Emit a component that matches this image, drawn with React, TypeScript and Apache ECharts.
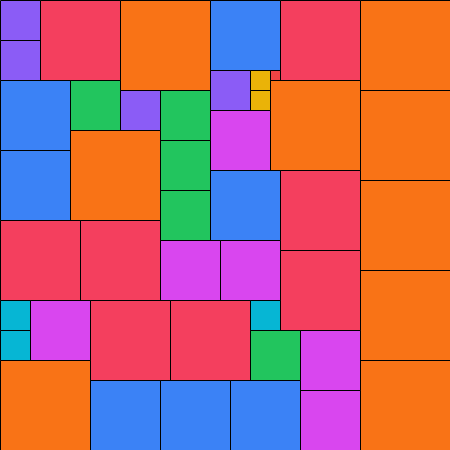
import React, { useEffect, useRef } from "react";
import * as echarts from "echarts";

// Square packing: top-left corner (x, y) and side length of each square
const xs = [0, 0, 40, 120, 210, 280, 360, 360, 360, 360, 360, 0, 70, 120, 160, 210, 250, 250, 270, 270, 210, 0, 70, 160, 160, 210, 280, 0, 80, 160, 220, 280, 0, 0, 30, 90, 170, 250, 250, 300, 300, 0, 90, 160, 230];
const ys = [0, 40, 0, 0, 0, 0, 0, 90, 180, 270, 360, 80, 80, 90, 90, 70, 70, 90, 70, 80, 110, 150, 130, 140, 190, 170, 170, 220, 220, 240, 240, 250, 300, 330, 300, 300, 300, 300, 330, 330, 390, 360, 380, 380, 380];
const sizes = [40, 40, 80, 90, 70, 80, 90, 90, 90, 90, 90, 70, 50, 40, 50, 40, 20, 20, 10, 90, 60, 70, 90, 50, 50, 70, 80, 80, 80, 60, 60, 80, 30, 30, 60, 80, 80, 30, 50, 60, 60, 90, 70, 70, 70];

const sizeColors: Record<number, string> = {
  10: "#ef4444",
  20: "#eab308",
  30: "#06b6d4",
  40: "#8b5cf6",
  50: "#22c55e",
  60: "#d946ef",
  70: "#3b82f6",
  80: "#f43f5e",
  90: "#f97316",
};

export default function App() {
  const ref = useRef<HTMLDivElement>(null);
  useEffect(() => {
    if (!ref.current) return;
    const chart = echarts.init(ref.current, undefined, { renderer: "svg" });
    const data = xs.map((x, i) => [x, ys[i], sizes[i]]);
    chart.setOption({
      animation: false,
      grid: { left: 0, right: 0, top: 0, bottom: 0 },
      xAxis: { type: "value", min: 0, max: 450, show: false },
      yAxis: { type: "value", min: 0, max: 450, inverse: true, show: false },
      series: [
        {
          type: "custom",
          data,
          renderItem: (params: any, api: any) => {
            const x = api.value(0);
            const y = api.value(1);
            const s = api.value(2);
            const p = api.coord([x, y]);
            const sz = api.size([s, s]);
            return {
              type: "rect",
              shape: { x: p[0] + 0.5, y: p[1] + 0.5, width: sz[0], height: sz[1] },
              style: { fill: sizeColors[s] || "#888", stroke: "#000", lineWidth: 1 },
            };
          },
        },
      ],
    });
    return () => chart.dispose();
  }, []);
  return (
    <div
      ref={ref}
      style={{ position: "absolute", left: 0, top: 0, width: 450, height: 450 }}
    />
  );
}
